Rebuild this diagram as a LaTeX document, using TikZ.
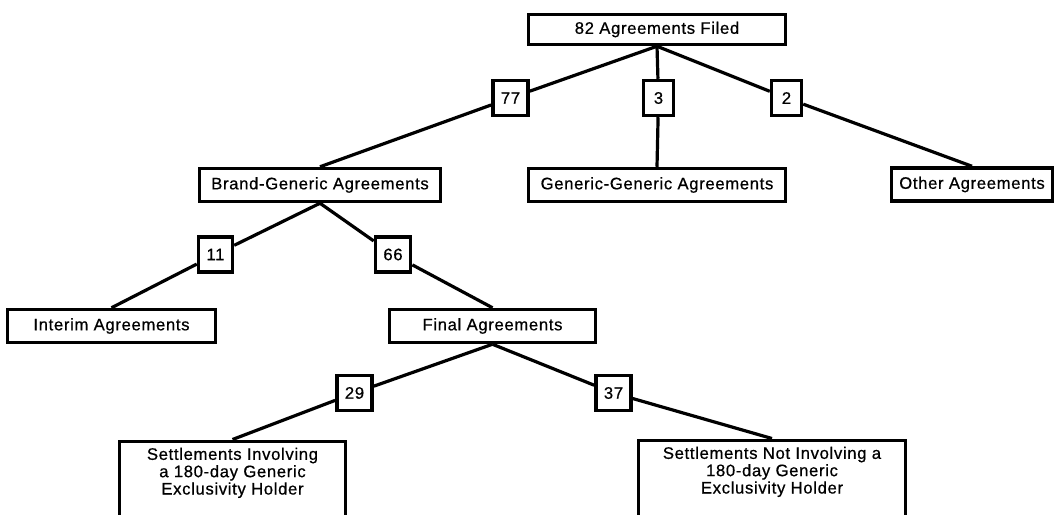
\documentclass[tikz,border=0pt]{standalone}
\usepackage{fontspec}
\setmainfont{Liberation Sans}[LetterSpace=4.0,FakeBold=0.6]
\usetikzlibrary{positioning}

\begin{document}
\begin{tikzpicture}[x=0.75pt,y=-0.75pt,
  box/.style={draw,line width=2.6pt,fill=white,inner sep=0pt,
    font=\fontsize{12.5}{13}\selectfont,minimum height=24.75pt},
  numbox/.style={box,minimum width=22.5pt,minimum height=26.25pt,inner xsep=6pt},
  settle/.style={box,align=center,anchor=north,inner xsep=0pt,inner ysep=4.9pt,text depth=16pt},
  link/.style={line width=2.4pt}]
\useasboundingbox (0,0) rectangle (1055,514);

\node[box,minimum width=192.75pt,minimum height=22.5pt] (filed) at (657,29.5) {82 Agreements Filed};

\node[numbox] (n77) at (510.5,98) {77};
\node[numbox] (n3) at (658.5,98) {3};
\node[numbox] (n2) at (786.5,98) {2};

\node[box,minimum width=180.75pt] (brand) at (320,185) {Brand-Generic Agreements};
\node[box,minimum width=192.75pt] (gengen) at (657,185) {Generic-Generic Agreements};
\node[box,minimum width=120.75pt] (other) at (972,184.5) {Other Agreements};

\node[numbox] (n11) at (215.5,254.5) {11};
\node[numbox] (n66) at (393,254.5) {66};

\node[box,minimum width=156pt] (interim) at (111.5,326) {Interim Agreements};
\node[box,minimum width=154.5pt] (final) at (492.5,326) {Final Agreements};

\node[numbox] (n29) at (354.5,393) {29};
\node[numbox] (n37) at (613.5,393) {37};

\node[settle,minimum width=169.5pt] (invol) at (232.5,439.5) {Settlements Involving\\a 180-day Generic\\Exclusivity Holder};
\node[settle,minimum width=200.25pt] (notinvol) at (772,438.5) {Settlements Not Involving a\\180-day Generic\\Exclusivity Holder};

% 枝
\draw[link] (filed.south) -- (n77) -- (brand.north);
\draw[link] (filed.south) -- (n3) -- (gengen.north);
\draw[link] (filed.south) -- (n2) -- (other.north);
\draw[link] (brand.south) -- (n11) -- (interim.north);
\draw[link] (brand.south) -- (n66) -- (final.north);
\draw[link] (final.south) -- (n29) -- (invol.north);
\draw[link] (final.south) -- (n37) -- (notinvol.north);

\end{tikzpicture}
\end{document}
